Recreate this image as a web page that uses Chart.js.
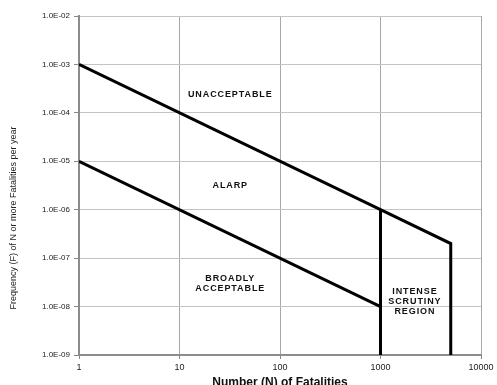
<!DOCTYPE html>
<html>
<head>
<meta charset="utf-8">
<script src="https://cdn.jsdelivr.net/npm/chart.js@4"></script>
<style>
  html, body { margin: 0; padding: 0; background: #fff; overflow: hidden; }
  canvas { display: block; }
</style>
</head>
<body>
<canvas id="fn-graph" width="497" height="385"></canvas>
<script>
// F-N criterion lines
const upperN = [1, 1000, 5000, 5000]
const upperF = [1e-3, 1e-6, 2e-7, 1e-9]
const lowerN = [1, 1000]
const lowerF = [1e-5, 1e-8]
const scrutinyN = [1000, 1000]
const scrutinyF = [1e-6, 1e-9]

const xTicks = [1, 10, 100, 1000, 10000]
const yTicks = [1e-9, 1e-8, 1e-7, 1e-6, 1e-5, 1e-4, 1e-3, 1e-2]

const regionLabels = [['UNACCEPTABLE'], ['ALARP'], ['BROADLY', 'ACCEPTABLE'], ['INTENSE', 'SCRUTINY', 'REGION']]
const regionN = [32, 32, 32, 2200]
const regionF = [2.4e-4, 3.1e-6, 3e-8, 1.3e-8]

const yTitle = 'Frequency (F) of N or more Fatalities per year'
const xTitle = 'Number (N) of Fatalities'

const fontFamily = '"Liberation Sans", Arial, sans-serif'

function toPoints(xs, ys){
    return xs.map((x, i) => ({x: x, y: ys[i]}))
}

function sciLabel(value){
    let parts = Number(value).toExponential(1).split('e')
    let exp = parseInt(parts[1])
    let sign = exp < 0 ? '-' : '+'
    return parts[0] + 'E' + sign + String(Math.abs(exp)).padStart(2, '0')
}

const regionText = {
    id: 'regionText',
    afterDatasetsDraw(chart){
        const ctx = chart.ctx
        const xs = chart.scales.x
        const ys = chart.scales.y
        ctx.save()
        ctx.fillStyle = '#111'
        ctx.font = 'bold 9px ' + fontFamily
        ctx.letterSpacing = '0.9px'
        ctx.textAlign = 'center'
        ctx.textBaseline = 'middle'
        regionLabels.forEach((lines, i) => {
            let cx = xs.getPixelForValue(regionN[i])
            let cy = ys.getPixelForValue(regionF[i])
            let top = cy - (lines.length - 1) * 10 / 2
            lines.forEach((line, j) => {
                ctx.fillText(line, cx, top + j * 10)
            })
        })
        ctx.restore()
    }
}

// y title sits lower than the middle of the axis in the original
const sideTitle = {
    id: 'sideTitle',
    afterDraw(chart){
        const ctx = chart.ctx
        ctx.save()
        ctx.translate(14, 218)
        ctx.rotate(-Math.PI / 2)
        ctx.fillStyle = '#222'
        ctx.font = '9px ' + fontFamily
        ctx.textAlign = 'center'
        ctx.textBaseline = 'middle'
        ctx.fillText(yTitle, 0, 0)
        ctx.restore()
    }
}

const lineStyle = {
    borderColor: '#000',
    borderWidth: 3,
    pointRadius: 0,
    showLine: true,
    fill: false,
    borderJoinStyle: 'miter',
}

const ctx = document.getElementById('fn-graph').getContext('2d')
const fnChart = new Chart(ctx, {
    type: 'scatter',
    data: {
        datasets: [
            Object.assign({ data: toPoints(upperN, upperF) }, lineStyle),
            Object.assign({ data: toPoints(lowerN, lowerF) }, lineStyle),
            Object.assign({ data: toPoints(scrutinyN, scrutinyF) }, lineStyle),
        ]
    },
    options: {
        responsive: false,
        animation: false,
        devicePixelRatio: 1,
        layout: { padding: { top: 16, right: 16, left: 0, bottom: 0 } },
        plugins: {
            legend: { display: false },
            tooltip: { enabled: false },
        },
        scales: {
            x: {
                type: 'logarithmic',
                min: 1,
                max: 10000,
                afterBuildTicks: scale => { scale.ticks = xTicks.map(v => ({value: v})) },
                afterFit: scale => { scale.height = 30 },
                ticks: {
                    callback: value => String(value),
                    color: '#222',
                    font: { family: fontFamily, size: 9 },
                    padding: 3,
                    maxRotation: 0,
                },
                grid: { color: '#a8a8a8', lineWidth: 1, tickLength: 4, tickColor: '#888' },
                border: { color: '#8c8c8c', width: 2 },
                title: {
                    display: true,
                    text: xTitle,
                    color: '#111',
                    font: { family: fontFamily, size: 12, weight: 'bold' },
                    padding: { top: 0, bottom: -5 },
                },
            },
            y: {
                type: 'logarithmic',
                min: 1e-9,
                max: 1e-2,
                afterBuildTicks: scale => { scale.ticks = yTicks.map(v => ({value: v})) },
                afterFit: scale => { scale.width = 79 },
                ticks: {
                    callback: value => sciLabel(value),
                    color: '#222',
                    font: { family: fontFamily, size: 8 },
                    padding: 4,
                },
                grid: { color: '#c4c4c4', lineWidth: 1, tickLength: 5, tickColor: '#888' },
                border: { color: '#8c8c8c', width: 2 },
                title: { display: false },
            }
        }
    },
    plugins: [regionText, sideTitle]
})
</script>
</body>
</html>
